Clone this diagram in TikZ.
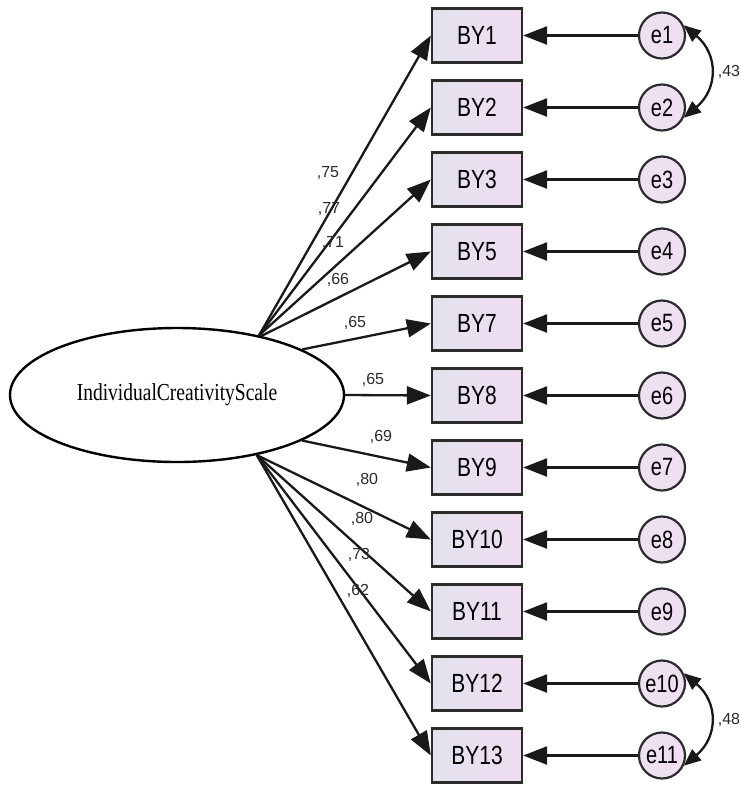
\documentclass[tikz,border=0pt]{standalone}
\usepackage{fontspec}
\setmainfont{Liberation Serif}
\setsansfont{Liberation Sans}
\usepackage{tikz}
\usetikzlibrary{positioning}
\usetikzlibrary{arrows.meta, shapes}

\definecolor{boxleft}{HTML}{E2E2EE}
\definecolor{boxright}{HTML}{EFDCF1}
\definecolor{errfill}{HTML}{EEE0F1}
\definecolor{inkgray}{HTML}{2B2B2B}

\newcommand{\tall}[1]{\scalebox{1}[1.25]{#1}}

\begin{document}
\begin{tikzpicture}[x=1pt,y=-1pt]

\tikzset{item box/.style={
		draw=inkgray, line width=2.3pt,
		left color=boxleft, right color=boxright,
		minimum width=90pt, minimum height=54pt,
		inner sep=0pt,
		font=\sffamily\fontsize{21}{21}\selectfont
	},
	error node/.style={
		circle, draw=inkgray, line width=2.2pt,
		fill=errfill,
		minimum size=46pt, inner sep=0pt,
		font=\sffamily\fontsize{20}{20}\selectfont
	},
	factor node/.style={
		ellipse, draw=black, line width=2.4pt,
		minimum width=334pt, minimum height=134pt,
		inner sep=0pt,
		font=\fontsize{19.5}{20}\selectfont
	},
	path line/.style={
		line width=2.3pt, draw=black!90,
		-{Triangle[length=24pt,width=18pt]}
	},
	both line/.style={
		line width=2.3pt, draw=black!90,
		{Triangle[length=17pt,width=14pt]}-{Triangle[length=17pt,width=14pt]}
	},
	load label/.style={
		text=inkgray, inner sep=0pt,
		font=\sffamily\fontsize{16}{16}\selectfont
	}
}

\useasboundingbox (0,0) rectangle (740,785);

\node[factor node] (ICS) at (177,395) {\tall{IndividualCreativityScale}};

% observed items and their errors
\foreach \obs/\res/\ang [count=\i from 0] in
	{BY1/e1/36, BY2/e2/36, BY3/e3/36, BY5/e4/35, BY7/e5/20, BY8/e6/0,
	 BY9/e7/-20, BY10/e8/-37, BY11/e9/-37, BY12/e10/-37, BY13/e11/-37}
{
	\node[item box] (\obs) at (477,35.5+72*\i) {\tall{\obs}};
	\node[error node] (\res) at (662,35.5+72*\i) {\tall{\res}};
	\draw[path line] (\res) -- (\obs);
	\draw[path line] (ICS.\ang) -- (\obs.west);
}

% loadings
\node[load label] (l1) at (328,173) {,75};
\node[load label] (l2) at (329,209) {,77};
\node[load label] (l3) at (333,243) {,71};
\node[load label] (l4) at (338,280) {,66};
\node[load label] (l5) at (355,323) {,65};
\node[load label] (l6) at (373,380) {,65};
\node[load label] (l7) at (381,437) {,69};
\node[load label] (l8) at (367,480) {,80};
\node[load label] (l9) at (362,519) {,80};
\node[load label] (l10) at (359,555) {,73};
\node[load label] (l11) at (358,591) {,62};

% error covariances
\draw[both line] (e1.25) to[bend left=50, looseness=1.25] (e2.-25);
\node[load label] (c1) at (729,72) {,43};
\draw[both line] (e10.25) to[bend left=50, looseness=1.25] (e11.-25);
\node[load label] (c2) at (729,720) {,48};

\end{tikzpicture}
\end{document}
